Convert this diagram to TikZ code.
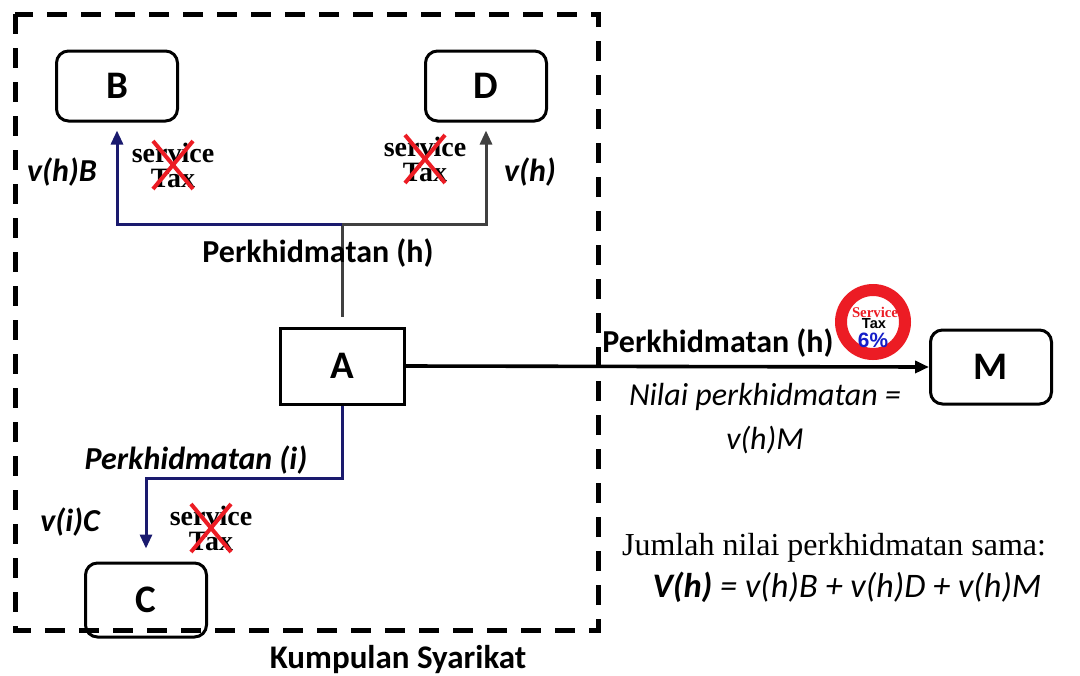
\documentclass[tikz,border=0pt]{standalone}
\usepackage{fontspec}
\setmainfont{Carlito}
\newfontfamily\taxserif{Liberation Serif}
\newfontfamily\taxsans{Liberation Sans}
\usetikzlibrary{arrows.meta}
\definecolor{navyline}{RGB}{26,26,110}
\definecolor{greyline}{RGB}{64,64,64}
\definecolor{taxred}{RGB}{236,28,36}
\definecolor{taxblue}{RGB}{20,30,200}
\tikzstyle{firm} = [draw, line width=1.5pt, rounded corners=6pt, fill=white, minimum width=60.5pt, minimum height=35pt, font=\fontsize{19.5}{22}\selectfont\bfseries]
\tikzstyle{lbl} = [inner sep=0pt, font=\fontsize{16}{19}\selectfont\bfseries]
\tikzstyle{ilbl} = [inner sep=0pt, font=\fontsize{16}{19}\selectfont\bfseries\itshape]
\tikzstyle{taxtext} = [inner sep=0pt, align=center, font=\fontsize{14}{12.5}\selectfont\taxserif\bfseries]

\begin{document}
\begin{tikzpicture}[x=0.5pt, y=-0.5pt]
\tikzset{flow/.style={line width=1.5pt, -{Triangle[length=7pt,width=6pt]}}}
\useasboundingbox (0,0) rectangle (1080,675);

\node[firm] (B) at (117,86) {B};
\node[firm] (D) at (486,86) {D};
\node[firm, rounded corners=0pt, minimum width=62pt, minimum height=38pt] (A) at (342,366) {A};
\node[firm, minimum height=37pt] (M) at (991,367) {M};
\node[firm, minimum height=37pt] (C) at (146,600) {C};

\coordinate (hJ) at (342,224);
\coordinate (iJ) at (342,478);

% perkhidmatan (h) ke B dan D
\draw[greyline, line width=1.5pt] ([yshift=5pt]A.north) -- (hJ);
\draw[flow, navyline, shorten >=4pt] (hJ) -- (hJ -| B.south) -- (B.south);
\draw[flow, greyline, shorten >=4pt] (hJ) -- (hJ -| D.south) -- (D.south);
% perkhidmatan (i) ke C
\draw[flow, navyline, shorten >=6.5pt] (A.south) -- (iJ) -- (iJ -| C.north) -- (C.north);
% perkhidmatan (h) ke M
\draw[flow, line width=1.8pt] (A.east) -- (M.west);

\draw[line width=2.5pt, dash pattern=on 10pt off 7pt] (15,14) rectangle (598,630);

\node[ilbl] (vhB) at (62,172) {v(h)B};
\node[ilbl] (vhD) at (530,172) {v(h)};
\node[lbl] (phBD) at (318,253) {Perkhidmatan (h)};
\node[ilbl] (piC) at (196,460) {Perkhidmatan (i)};
\node[ilbl] (viC) at (70,522) {v(i)C};
\node[lbl] (phM) at (718,343) {Perkhidmatan (h)};
\node[inner sep=0pt, font=\fontsize{16}{19}\selectfont\itshape] (nilai) at (765,397) {Nilai perkhidmatan =};
\node[inner sep=0pt, font=\fontsize{16}{19}\selectfont\itshape] (vhM) at (765,440) {v(h)M};
\node[lbl, font=\fontsize{16.5}{19}\selectfont\bfseries] (group) at (398,660) {Kumpulan Syarikat};
\node[inner sep=0pt, font=\fontsize{16}{19}\selectfont\taxserif] (jumlah) at (834,548) {Jumlah nilai perkhidmatan sama:};
\node[inner sep=0pt, font=\fontsize{17.2}{20}\selectfont\itshape] (total) at (847,587) {\textbf{V(h)} = v(h)B + v(h)D + v(h)M};

% cukai dikecualikan
\foreach \name/\x/\y in {taxB/173/165, taxD/425/159, taxC/211/528}
{
	\node[taxtext] (\name) at (\x,\y) {service\\Tax};
	\draw[taxred, line width=2pt] ([shift={(-10pt,12pt)}]\name.center) -- ([shift={(10pt,-12pt)}]\name.center);
	\draw[taxred, line width=2pt] ([shift={(-10pt,-12pt)}]\name.center) -- ([shift={(10pt,12pt)}]\name.center);
}

% cukai perkhidmatan 6%
\node[circle, draw=taxred, line width=6pt, fill=white, minimum size=32pt] (tax6) at (873,322) {};
\node[inner sep=0pt, text=taxred, font=\fontsize{7.4}{8}\selectfont\taxserif\bfseries] (svc) at (875,312) {Service};
\node[inner sep=0pt, font=\fontsize{7.3}{8}\selectfont\taxsans\bfseries] (tx) at (874,324) {Tax};
\node[inner sep=0pt, text=taxblue, font=\fontsize{10.4}{11}\selectfont\taxsans\bfseries] (six) at (873,340) {6\%};
\end{tikzpicture}
\end{document}
